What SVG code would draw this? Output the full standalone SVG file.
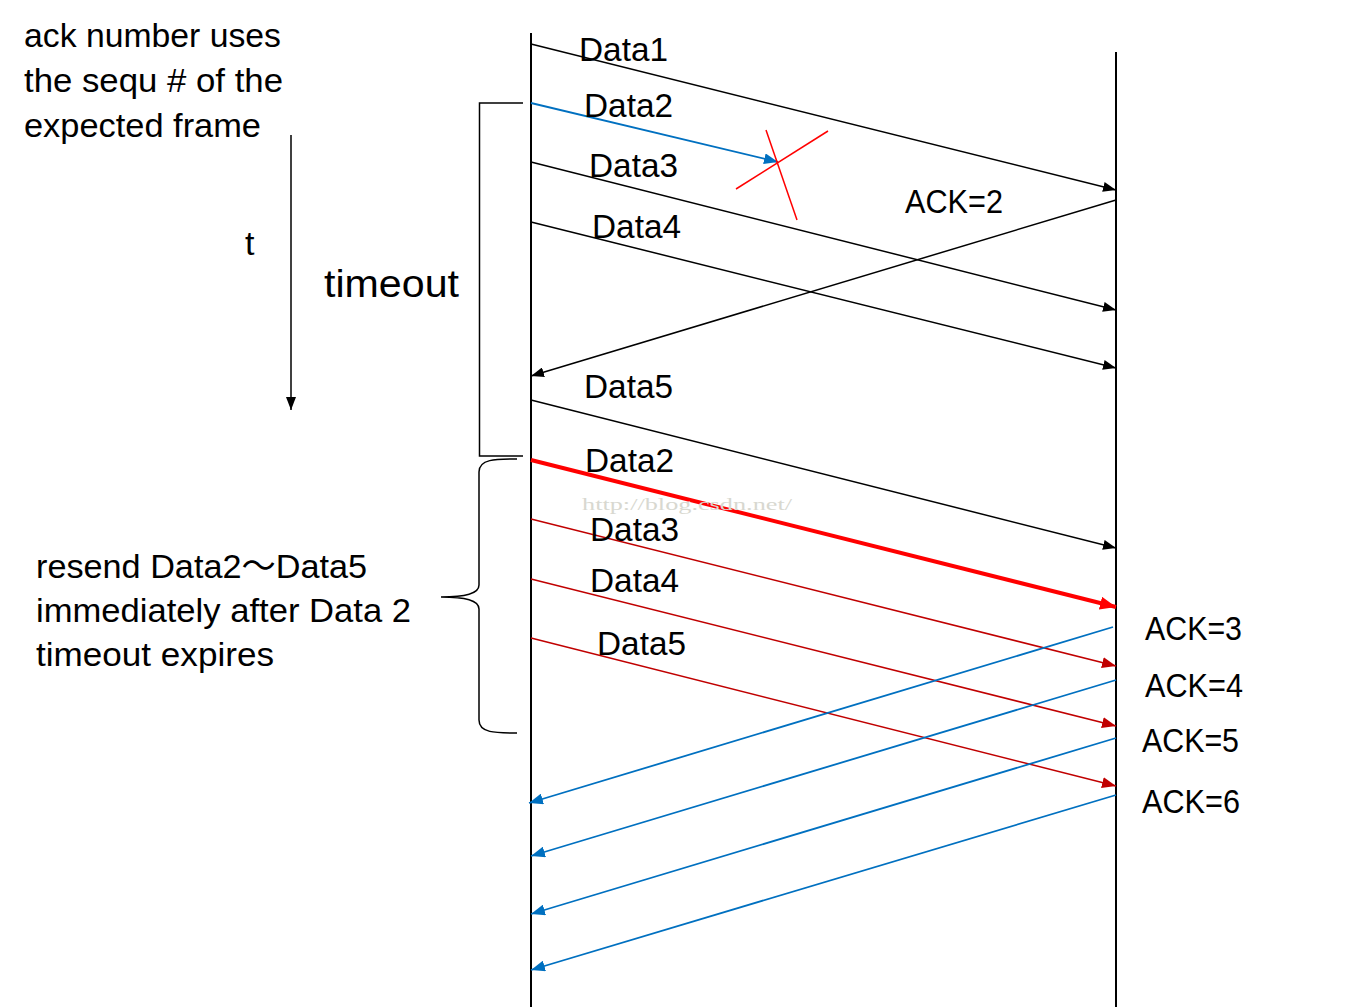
<svg xmlns="http://www.w3.org/2000/svg" width="1356" height="1007" viewBox="0 0 1356 1007">
<style>
text{font-family:"Liberation Sans","Noto Sans CJK SC",sans-serif;fill:#000;}
.lbl{font-size:34px;}
.big{font-size:38px;}
.k{stroke:#000;stroke-width:1.5;fill:none;}
.b{stroke:#0070C0;stroke-width:1.8;fill:none;}
.dr{stroke:#C00000;stroke-width:1.5;fill:none;}
.life{stroke:#000;stroke-width:2;}
.wm{font-family:"Liberation Serif",serif;font-size:16px;fill:#d8d8d0;}
</style>
<defs>
<marker id="ak" markerUnits="userSpaceOnUse" markerWidth="13" markerHeight="10" refX="13" refY="5" orient="auto"><path d="M0,0 L13,5 L0,10 z" fill="#000"/></marker>
<marker id="ab" markerUnits="userSpaceOnUse" markerWidth="14" markerHeight="11" refX="14" refY="5.5" orient="auto"><path d="M0,0 L14,5.5 L0,11 z" fill="#0070C0"/></marker>
<marker id="adr" markerUnits="userSpaceOnUse" markerWidth="14" markerHeight="11" refX="14" refY="5.5" orient="auto"><path d="M0,0 L14,5.5 L0,11 z" fill="#C00000"/></marker>
<marker id="ar" markerUnits="userSpaceOnUse" markerWidth="16" markerHeight="13" refX="16" refY="6.5" orient="auto"><path d="M0,0 L16,6.5 L0,13 z" fill="#FF0000"/></marker>
</defs>

<g id="sender"><line class="life" x1="531" y1="33" x2="531" y2="1007"/></g>
<g id="receiver"><line class="life" x1="1116" y1="52" x2="1116" y2="1007"/></g>

<g id="connectors">
<line class="k" x1="531" y1="44" x2="1116" y2="190" marker-end="url(#ak)"/>
<line class="b" x1="531" y1="103" x2="778" y2="162" stroke-width="2.5" marker-end="url(#ab)"/>
<line class="k" x1="531" y1="162" x2="1116" y2="310" marker-end="url(#ak)"/>
<line class="k" x1="531" y1="222" x2="1116" y2="368" marker-end="url(#ak)"/>
<line class="k" x1="1116" y1="200" x2="531" y2="376" marker-end="url(#ak)"/>
<line class="k" x1="531" y1="400" x2="1116" y2="548" marker-end="url(#ak)"/>
<line x1="531" y1="460" x2="1116" y2="607" stroke="#FF0000" stroke-width="4" marker-end="url(#ar)"/>
<line class="dr" x1="531" y1="519" x2="1116" y2="666" marker-end="url(#adr)"/>
<line class="dr" x1="531" y1="579" x2="1116" y2="726" marker-end="url(#adr)"/>
<line class="dr" x1="531" y1="638" x2="1116" y2="786" marker-end="url(#adr)"/>
<line class="b" x1="1113" y1="627" x2="529" y2="803" marker-end="url(#ab)"/>
<line class="b" x1="1116" y1="680" x2="531" y2="856" marker-end="url(#ab)"/>
<line class="b" x1="1116" y1="738" x2="531" y2="914" marker-end="url(#ab)"/>
<line class="b" x1="1116" y1="795" x2="531" y2="970" marker-end="url(#ab)"/>
<line class="k" x1="291" y1="135" x2="291" y2="410" marker-end="url(#ak)"/>
</g>

<g id="loss-mark">
<line x1="736" y1="189" x2="828" y2="131" stroke="#FF0000" stroke-width="1.5"/>
<line x1="766" y1="130" x2="797" y2="220" stroke="#FF0000" stroke-width="1.5"/>
</g>

<g id="timeout-bracket">
<path d="M523,103 H479.5 V456 H523" fill="none" stroke="#000" stroke-width="1.5"/>
</g>
<g id="resend-brace">
<path d="M517,459 C495,459 479,459 479,472 V585 C479,594 465,597 441,597 C465,597 479,600 479,609 V720 C479,733 495,733 517,733" fill="none" stroke="#000" stroke-width="1.5"/>
</g>

<g id="labels">
<text class="lbl" x="24" y="47" textLength="257" lengthAdjust="spacingAndGlyphs">ack number uses</text>
<text class="lbl" x="24" y="92" textLength="259" lengthAdjust="spacingAndGlyphs">the sequ # of the</text>
<text class="lbl" x="24" y="137" textLength="237" lengthAdjust="spacingAndGlyphs">expected frame</text>
<text class="lbl" x="245" y="255">t</text>
<text class="big" x="324" y="297" textLength="135" lengthAdjust="spacingAndGlyphs">timeout</text>
<text class="lbl" x="579" y="61" textLength="89" lengthAdjust="spacingAndGlyphs">Data1</text>
<text class="lbl" x="584" y="117" textLength="89" lengthAdjust="spacingAndGlyphs">Data2</text>
<text class="lbl" x="589" y="177" textLength="89" lengthAdjust="spacingAndGlyphs">Data3</text>
<text class="lbl" x="592" y="238" textLength="89" lengthAdjust="spacingAndGlyphs">Data4</text>
<text class="lbl" x="905" y="213" textLength="98" lengthAdjust="spacingAndGlyphs">ACK=2</text>
<text class="lbl" x="584" y="398" textLength="89" lengthAdjust="spacingAndGlyphs">Data5</text>
<text class="wm" x="582" y="510" textLength="210" lengthAdjust="spacingAndGlyphs">http://blog.csdn.net/</text>
<text class="lbl" x="585" y="472" textLength="89" lengthAdjust="spacingAndGlyphs">Data2</text>
<text class="lbl" x="590" y="541" textLength="89" lengthAdjust="spacingAndGlyphs">Data3</text>
<text class="lbl" x="590" y="592" textLength="89" lengthAdjust="spacingAndGlyphs">Data4</text>
<text class="lbl" x="597" y="655" textLength="89" lengthAdjust="spacingAndGlyphs">Data5</text>
<text class="lbl" x="1145" y="640" textLength="97" lengthAdjust="spacingAndGlyphs">ACK=3</text>
<text class="lbl" x="1145" y="697" textLength="98" lengthAdjust="spacingAndGlyphs">ACK=4</text>
<text class="lbl" x="1142" y="752" textLength="97" lengthAdjust="spacingAndGlyphs">ACK=5</text>
<text class="lbl" x="1142" y="813" textLength="98" lengthAdjust="spacingAndGlyphs">ACK=6</text>
<text class="lbl" x="36" y="578" textLength="331" lengthAdjust="spacingAndGlyphs">resend Data2～Data5</text>
<text class="lbl" x="36" y="622" textLength="375" lengthAdjust="spacingAndGlyphs">immediately after Data 2</text>
<text class="lbl" x="36" y="666" textLength="238" lengthAdjust="spacingAndGlyphs">timeout expires</text>
</g>
</svg>
